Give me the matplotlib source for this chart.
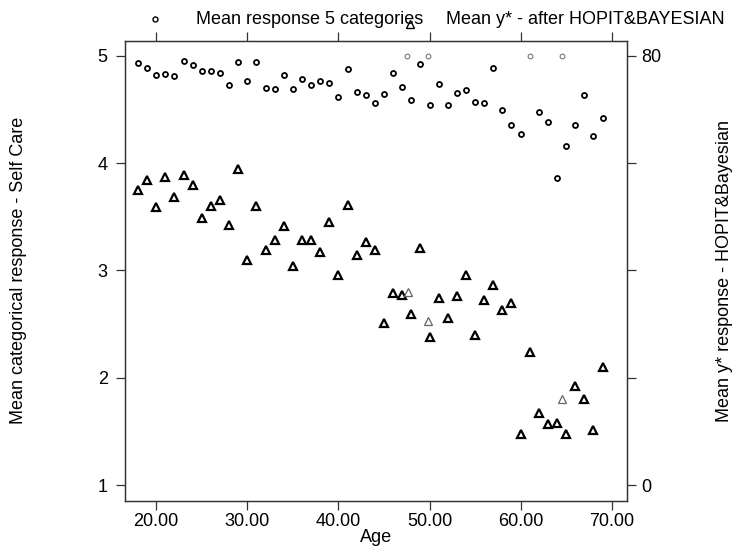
import matplotlib
matplotlib.use("Agg")
import matplotlib.pyplot as plt
from matplotlib.lines import Line2D

plt.rcParams['font.family'] = ['Liberation Sans', 'DejaVu Sans']

# ---- data ----
ages = list(range(18, 70))
# Mean response 5 categories (left axis); None where the point is drawn in the light series
mean_resp = [4.93, 4.89, 4.82, 4.83, 4.81, 4.95, 4.91, 4.86, 4.86, 4.84,
             4.73, 4.94, 4.76, 4.94, 4.70, 4.69, 4.82, 4.69, 4.78, 4.73,
             4.76, 4.75, 4.62, 4.88, 4.66, 4.63, 4.56, 4.64, 4.84, 4.71,
             4.59, 4.92, 4.54, 4.74, 4.54, 4.65, 4.68, 4.57, 4.56, 4.89,
             4.49, 4.35, 4.27, None, 4.48, 4.38, 3.86, 4.16, 4.35, 4.63,
             4.25, 4.42]
# Mean y* after HOPIT & Bayesian (right axis)
mean_ystar = [55.0, 56.8, 51.8, 57.4, 53.6, 57.8, 56.0, 49.8, 52.0, 53.2,
              48.4, 58.8, 42.0, 52.0, 43.8, 45.6, 48.2, 40.8, 45.6, 45.6,
              43.4, 49.0, 39.2, 52.2, 42.8, 45.2, 43.8, 30.2, 35.8, 35.4,
              31.8, 44.2, 27.6, 34.8, 31.2, 35.2, 39.2, 28.0, 34.4, 37.2,
              32.6, 34.0, 9.6, 24.8, 13.4, 11.4, 11.6, 9.6, 18.4, 16.0,
              10.2, 22.0]
# lighter drawn points
light_resp_age = [47.5, 49.8, 61.0, 64.5]
light_resp = [5.0, 5.0, 5.0, 5.0]
light_ystar_age = [47.6, 49.8, 64.5]
light_ystar = [36.0, 30.6, 16.0]

xticks = [20, 30, 40, 50, 60, 70]
xticklabels = ["20.00", "30.00", "40.00", "50.00", "60.00", "70.00"]
left_ticks = [1, 2, 3, 4, 5]
right_ticks = [0, 20, 40, 60, 80]
right_ticklabels = ["0", "", "", "", "80"]

legend_labels = ["Mean response 5 categories", "Mean y* - after HOPIT&BAYESIAN"]
xlabel = "Age"
ylabel_left = "Mean categorical response - Self Care"
ylabel_right = "Mean y* response - HOPIT&Bayesian"

# ---- figure ----
W, H = 735, 548
fig = plt.figure(figsize=(W / 100, H / 100), dpi=100)
L, R, T, B = 125, 627, 40.7, 500.7
ax = fig.add_axes([L / W, 1 - B / H, (R - L) / W, (B - T) / H])

spine_col = '#333333'
fs = 13

left_lim = (0.854, 5.14)
ax.set_ylim(*left_lim)
ax.set_xlim(16.57, 71.68)

ax2 = ax.twinx()
ax2.set_ylim((left_lim[0] - 1) * 20, (left_lim[1] - 1) * 20)

xs = [a for a, v in zip(ages, mean_resp) if v is not None]
ys = [v for v in mean_resp if v is not None]
ax.plot(xs, ys, linestyle='none', marker='o', ms=3.6, mfc='white',
        mec='black', mew=1.3, zorder=3)
ax.plot(light_resp_age, light_resp, linestyle='none', marker='o', ms=3.4,
        mfc='white', mec='#777777', mew=0.8, zorder=3, clip_on=False)

ax2.plot(ages, mean_ystar, linestyle='none', marker='^', ms=6.2, mfc='white',
         mec='black', mew=1.6, zorder=3)
ax2.plot(light_ystar_age, light_ystar, linestyle='none', marker='^', ms=6.2,
         mfc='white', mec='#666666', mew=0.9, zorder=3)

for a in (ax, ax2):
    for s in a.spines.values():
        s.set_color(spine_col)
        s.set_linewidth(0.9)

ax.set_xticks(xticks)
ax.set_xticklabels(xticklabels, fontsize=fs)
ax.tick_params(axis='x', direction='out', length=6.5, width=0.9,
               color=spine_col, pad=2, top=True, labeltop=False)
ax.set_yticks(left_ticks)
ax.set_yticklabels([str(t) for t in left_ticks], fontsize=fs)
ax.tick_params(axis='y', direction='out', length=6.5, width=0.9,
               color=spine_col, pad=6)
ax2.set_yticks(right_ticks)
ax2.set_yticklabels(right_ticklabels, fontsize=fs)
ax2.tick_params(axis='y', direction='out', length=6.5, width=0.9,
                color=spine_col, pad=4)

ax.set_xlabel(xlabel, fontsize=fs, va='center')
ax.xaxis.set_label_coords(0.5, (B - 538) / (B - T))
ax.set_ylabel(ylabel_left, fontsize=fs, va='center', ha='center')
ax.yaxis.set_label_coords((19 - L) / (R - L), 0.5)
ax2.set_ylabel(ylabel_right, fontsize=fs, va='center', ha='center', rotation=90)
ax2.yaxis.set_label_coords((725 - L) / (R - L), 0.5)

# ---- legend on top ----
fig.add_artist(Line2D([155 / W], [1 - 19 / H], transform=fig.transFigure,
                      marker='o', ms=3.6, mfc='white', mec='black', mew=1.0,
                      linestyle='none'))
fig.text(196.5 / W, 1 - 19 / H, legend_labels[0], fontsize=fs, va='center', ha='left')
fig.add_artist(Line2D([410 / W], [1 - 24 / H], transform=fig.transFigure,
                      marker='^', ms=6.2, mfc='white', mec='black', mew=1.0,
                      linestyle='none'))
fig.text(445.5 / W, 1 - 19 / H, legend_labels[1], fontsize=fs, va='center', ha='left')

fig.savefig("out.png", dpi=100)
